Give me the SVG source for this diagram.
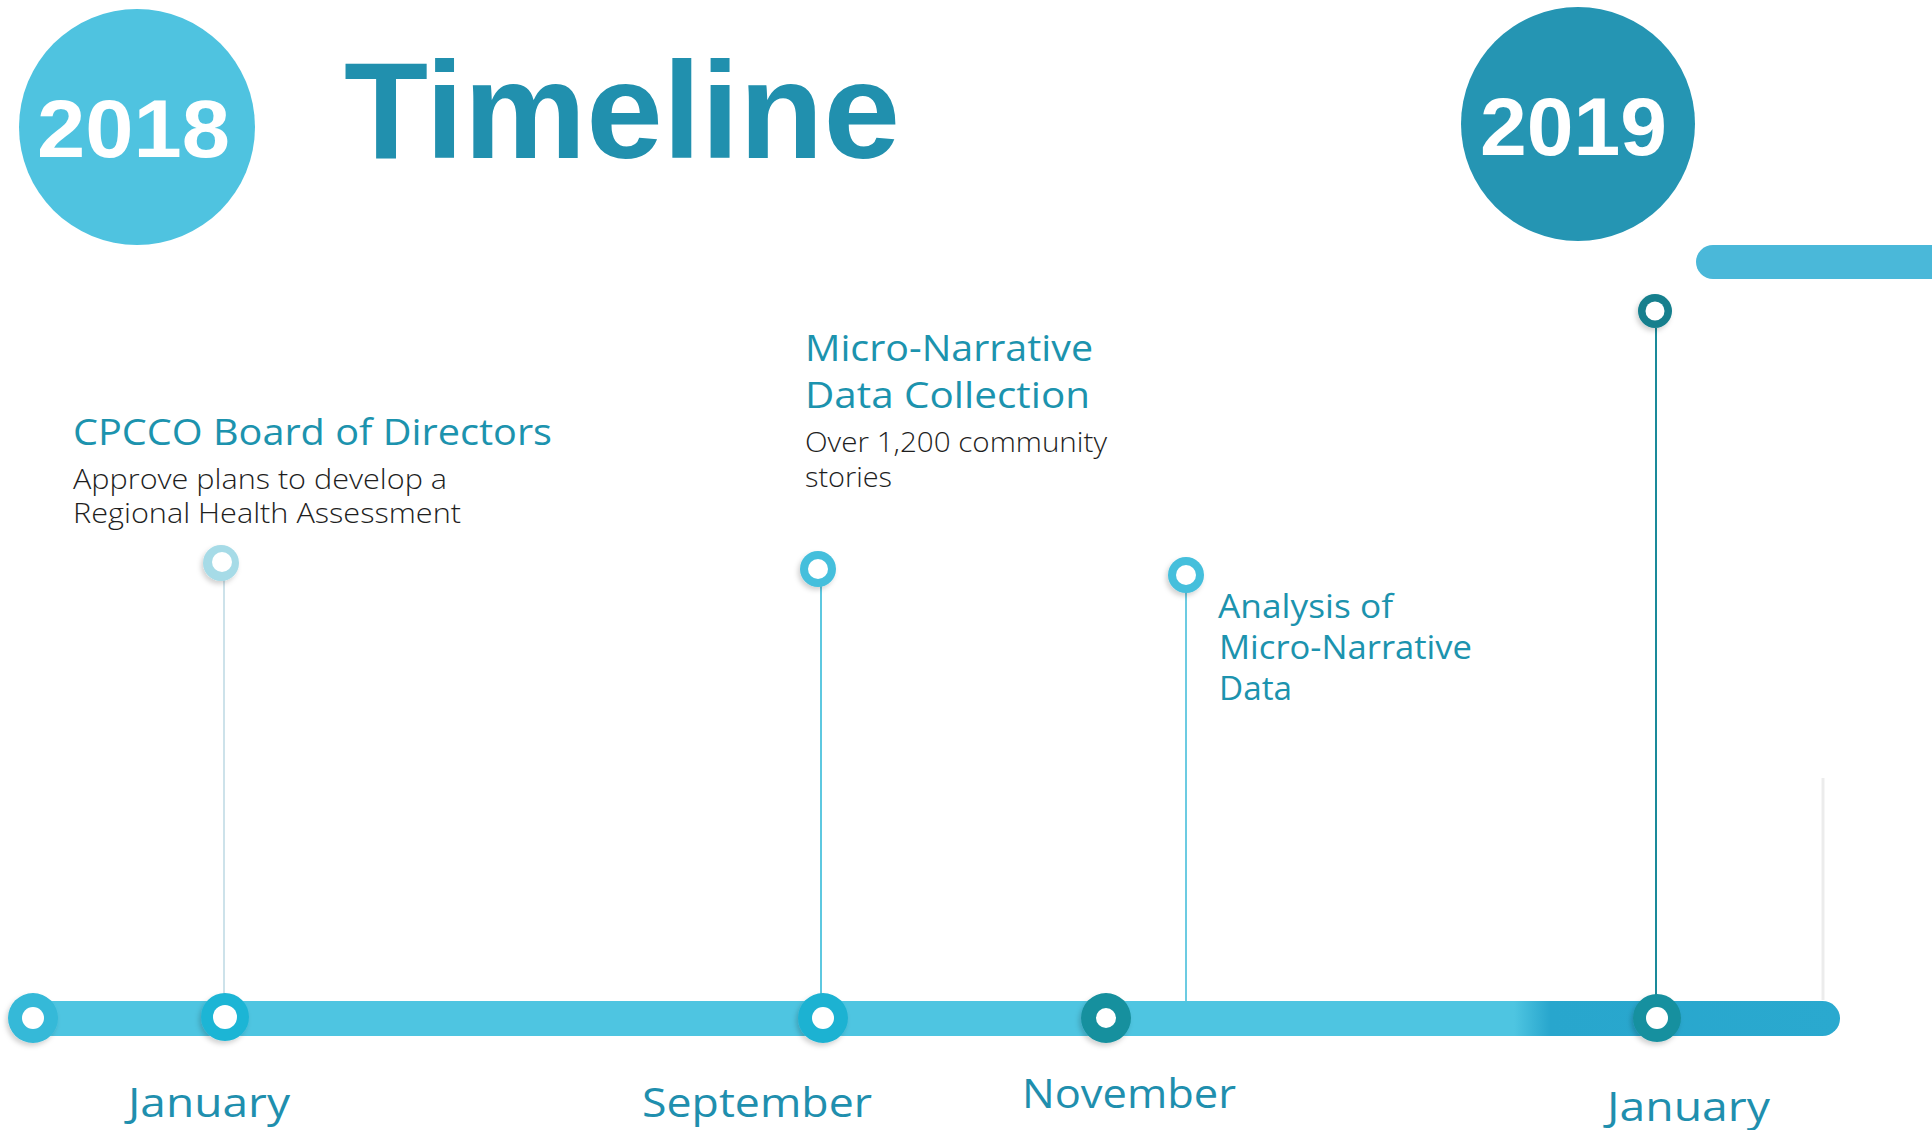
<svg xmlns="http://www.w3.org/2000/svg" width="1932" height="1130" viewBox="0 0 1932 1130">
<defs>
<filter id="sh" x="-50%" y="-50%" width="200%" height="200%">
<feDropShadow dx="-2" dy="3" stdDeviation="2.5" flood-color="#000" flood-opacity="0.18"/>
</filter>
<linearGradient id="barg" x1="0" y1="0" x2="1" y2="0">
<stop offset="0" stop-color="#4ec5e1"/>
<stop offset="0.82" stop-color="#4ec5e1"/>
<stop offset="0.84" stop-color="#28a6cd"/>
<stop offset="1" stop-color="#2aa9cf"/>
</linearGradient>
</defs>
<style>
.year{font-family:"Liberation Sans",Arial,sans-serif;font-weight:bold;font-size:82px;fill:#ffffff}
.title{font-family:"Liberation Sans",Arial,sans-serif;font-weight:bold;font-size:138px;fill:#2190ae}
.head{font-family:"Open Sans",Lato,sans-serif;fill:#1c93ae}
.body{font-family:"Open Sans",Lato,sans-serif;font-weight:300;font-size:27px;fill:#1e1e1e}
.month{font-family:"Open Sans",Lato,sans-serif;font-size:41px;fill:#1f8fae}
.stem{fill:none;stroke-width:2}
.hole{fill:#ffffff}
</style>
<rect width="1932" height="1130" fill="#ffffff"/>

<g id="year-2018">
<circle cx="137" cy="127" r="118" fill="#4fc3e0"/>
<text class="year" x="37" y="157" textLength="193" lengthAdjust="spacingAndGlyphs">2018</text>
</g>
<g id="title">
<text class="title" x="344" y="158" textLength="556" lengthAdjust="spacingAndGlyphs">Timeline</text>
</g>
<g id="year-2019">
<circle cx="1578" cy="124" r="117" fill="#2595b3"/>
<text class="year" x="1480" y="155" textLength="187" lengthAdjust="spacingAndGlyphs">2019</text>
</g>
<g id="top-bar">
<rect x="1696" y="245" width="260" height="34" rx="17" fill="#4ab8d9"/>
</g>

<g id="connectors">
<line class="stem" x1="224" y1="580" x2="224" y2="1002" stroke="#cde2ea"/>
<line class="stem" x1="821" y1="586" x2="821" y2="1002" stroke="#5ec8e0"/>
<line class="stem" x1="1186" y1="592" x2="1186" y2="1002" stroke="#6ccbe2"/>
<line class="stem" x1="1656" y1="328" x2="1656" y2="1002" stroke="#1a8a9a"/>
<line x1="1823" y1="778" x2="1823" y2="1000" stroke="#ececec" stroke-width="3"/>
</g>

<g id="timeline-bar">
<rect x="30" y="1001" width="1810" height="35" rx="17.5" fill="url(#barg)"/>
</g>

<g id="dot-start">
<circle cx="33" cy="1018" r="25" fill="#35b9d8" filter="url(#sh)"/>
<circle class="hole" cx="33" cy="1018" r="11"/>
</g>
<g id="dot-january-2018">
<circle cx="225" cy="1017" r="24" fill="#1fb5d5" filter="url(#sh)"/>
<circle class="hole" cx="225" cy="1017" r="12"/>
</g>
<g id="dot-september">
<circle cx="823" cy="1018" r="25" fill="#1fb2d2" filter="url(#sh)"/>
<circle class="hole" cx="823" cy="1018" r="11"/>
</g>
<g id="dot-november">
<circle cx="1106" cy="1018" r="25" fill="#17909e" filter="url(#sh)"/>
<circle class="hole" cx="1106" cy="1018" r="10"/>
</g>
<g id="dot-january-2019">
<circle cx="1657" cy="1018" r="24" fill="#17909f" filter="url(#sh)"/>
<circle class="hole" cx="1657" cy="1018" r="11"/>
</g>

<g id="event-board">
<circle cx="221" cy="563" r="18" fill="#a6dbe7" filter="url(#sh)"/>
<circle class="hole" cx="222" cy="562" r="10"/>
<text class="head" x="73" y="445" font-size="36" textLength="479" lengthAdjust="spacingAndGlyphs">CPCCO Board of Directors</text>
<text class="body" x="73" y="489" textLength="374" lengthAdjust="spacingAndGlyphs">Approve plans to develop a</text>
<text class="body" x="73" y="523" textLength="388" lengthAdjust="spacingAndGlyphs">Regional Health Assessment</text>
</g>

<g id="event-collection">
<circle cx="818" cy="569" r="18" fill="#45bfdc" filter="url(#sh)"/>
<circle class="hole" cx="818" cy="569" r="10"/>
<text class="head" x="805" y="361" font-size="37" textLength="288" lengthAdjust="spacingAndGlyphs">Micro-Narrative</text>
<text class="head" x="805" y="408" font-size="37" textLength="285" lengthAdjust="spacingAndGlyphs">Data Collection</text>
<text class="body" x="805" y="452" textLength="302" lengthAdjust="spacingAndGlyphs">Over 1,200 community</text>
<text class="body" x="805" y="487" textLength="87" lengthAdjust="spacingAndGlyphs">stories</text>
</g>

<g id="event-analysis">
<circle cx="1186" cy="575" r="18" fill="#45bfdc" filter="url(#sh)"/>
<circle class="hole" cx="1186" cy="575" r="10"/>
<text class="head" x="1218" y="618" font-size="32" textLength="175" lengthAdjust="spacingAndGlyphs">Analysis of</text>
<text class="head" x="1219" y="659" font-size="32" textLength="253" lengthAdjust="spacingAndGlyphs">Micro-Narrative</text>
<text class="head" x="1219" y="700" font-size="32" textLength="73" lengthAdjust="spacingAndGlyphs">Data</text>
</g>

<g id="event-2019">
<circle cx="1655" cy="311" r="17" fill="#137f8d" filter="url(#sh)"/>
<circle class="hole" cx="1655" cy="311" r="9.5"/>
</g>

<g id="months">
<text class="month" x="128" y="1117" textLength="162" lengthAdjust="spacingAndGlyphs">January</text>
<text class="month" x="642" y="1117" textLength="230" lengthAdjust="spacingAndGlyphs">September</text>
<text class="month" x="1022" y="1108" textLength="214" lengthAdjust="spacingAndGlyphs">November</text>
<text class="month" x="1607" y="1121" textLength="163" lengthAdjust="spacingAndGlyphs">January</text>
</g>
</svg>
